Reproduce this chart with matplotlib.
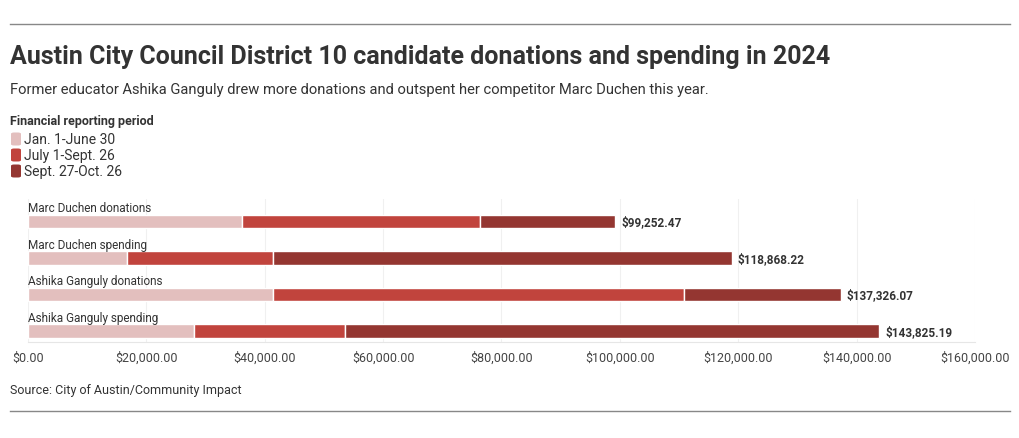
import matplotlib.pyplot as plt
import numpy as np
from matplotlib.patches import FancyBboxPatch

plt.rcParams['font.family'] = ['Roboto', 'DejaVu Sans']

# data
candidates = ['Marc Duchen donations', 'Marc Duchen spending',
              'Ashika Ganguly donations', 'Ashika Ganguly spending']
jan_june = [36150, 16700, 41400, 28050]
july_sept = [40200, 24700, 69430, 25500]
sept_oct = [22902.47, 77468.22, 26496.07, 90275.19]
totals = ['$99,252.47', '$118,868.22', '$137,326.07', '$143,825.19']
periods = ['Jan. 1-June 30', 'July 1-Sept. 26', 'Sept. 27-Oct. 26']
colors = ['#e3bfbe', '#c1443d', '#943631']
xticks = np.arange(0, 160001, 20000)

W, H = 1020, 439
fig = plt.figure(figsize=(W / 100, H / 100), dpi=100)

def fx(px):
    return px / W

def fy(py):
    return 1 - py / H

ax = fig.add_axes([fx(28), fy(343), fx(975) - fx(28), fy(200) - fy(343)])
y = np.arange(len(candidates))
h = 0.38
left = np.zeros(len(candidates))
for vals, c in zip([jan_june, july_sept, sept_oct], colors):
    ax.barh(y, vals, left=left, height=h, color=c, edgecolor='white', linewidth=1)
    left = left + np.array(vals)

for i in range(len(candidates)):
    ax.text(0, i - h / 2 - 0.01, candidates[i], fontsize=8.5, color='#333333',
            va='bottom', ha='left')
    ax.text(left[i] + 1000, i + 0.01, totals[i], fontsize=8.5, color='#333333',
            fontweight='bold', va='center', ha='left')

ax.set_xlim(0, 160000)
ax.set_ylim(3.3, -0.616)
ax.set_xticks(xticks)
ax.set_xticklabels(['${:,.2f}'.format(v) for v in xticks], fontsize=9, color='#444444')
ax.set_yticks([])
ax.grid(axis='x', color='#f0f0f0', linewidth=0.8)
ax.set_axisbelow(True)
for s in ['top', 'right', 'left']:
    ax.spines[s].set_visible(False)
ax.spines['bottom'].set_color('#e6e6e6')
ax.tick_params(axis='x', length=0, pad=6)

# header
fig.add_artist(plt.Line2D([fx(10), fx(1010)], [fy(25), fy(25)], color='#888888', lw=1))
fig.text(fx(10), fy(57), 'Austin City Council District 10 candidate donations and spending in 2024',
         fontsize=18, fontweight='bold', color='#333333', va='center')
fig.text(fx(10), fy(90), 'Former educator Ashika Ganguly drew more donations and outspent her competitor Marc Duchen this year.',
         fontsize=10.65, color='#333333', va='center')

# legend
fig.text(fx(10), fy(122), 'Financial reporting period', fontsize=9, fontweight='bold',
         color='#333333', va='center')
for k, (p, c) in enumerate(zip(periods, colors)):
    yc = 140 + 16 * k
    fig.add_artist(FancyBboxPatch((fx(11), fy(yc + 6.5)), fx(10), fy(yc - 6.5) - fy(yc + 6.5),
                                  boxstyle='round,pad=0,rounding_size=0.003',
                                  transform=fig.transFigure, color=c, lw=0))
    fig.text(fx(24), fy(yc), p, fontsize=10, color='#333333', va='center')

# footer
fig.text(fx(10), fy(391), 'Source: City of Austin/Community Impact', fontsize=9,
         color='#333333', va='center')
fig.add_artist(plt.Line2D([fx(10), fx(1010)], [fy(412), fy(412)], color='#888888', lw=1))

fig.savefig('out.png', dpi=100)
